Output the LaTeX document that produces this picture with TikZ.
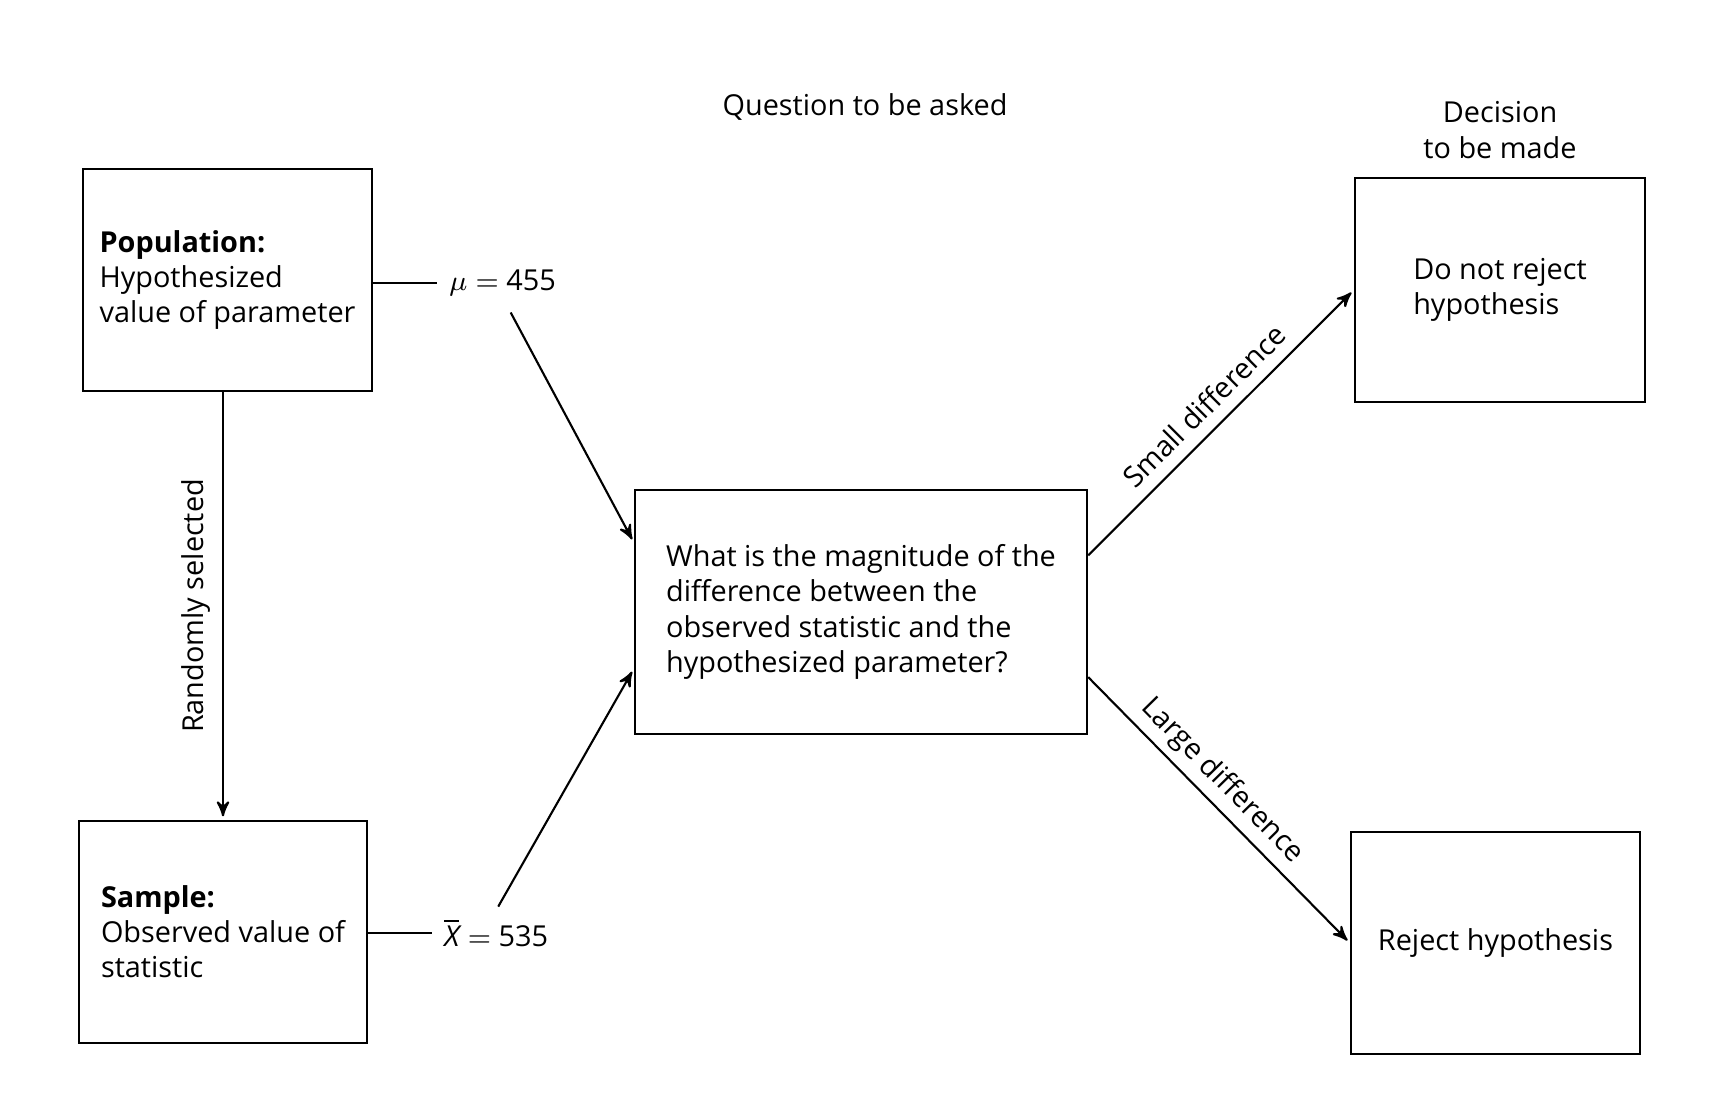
\documentclass[tikz,border=0pt]{standalone}
\usepackage{fontspec}
\setmainfont{Open Sans}
\usetikzlibrary{arrows,shapes}

\begin{document}
\begin{tikzpicture}[
  x=0.01cm, y=-0.01cm,
  font=\fontsize{8.2}{10}\selectfont,
  box/.style={draw,semithick,align=left,inner sep=0pt},
  to/.style={->,>=stealth',shorten >=1pt,semithick},
  tie/.style={semithick},
  every node/.style={align=center}]

  \useasboundingbox (0,0) rectangle (1712,1104);

  % Headings above the columns
  \node (question_label) at (865,107) {Question to be asked};
  \node (decision_label) at (1500,130) {Decision\\to be made};

  % The boxes, placed at coordinates
  \node[box,minimum width=2.89cm,minimum height=2.22cm] (population) at (227.5,280)
    {\textbf{Population:}\\Hypothesized\\value of parameter};
  \node[box,minimum width=2.88cm,minimum height=2.22cm] (sample) at (223,932)
    {\textbf{Sample:}\\Observed value of\\statistic};
  \node[box,minimum width=4.52cm,minimum height=2.44cm] (question) at (861,612)
    {What is the magnitude of the\\difference between the\\observed statistic and the\\hypothesized parameter?};
  \node[box,minimum width=2.90cm,minimum height=2.23cm] (no_reject) at (1500,290)
    {Do not reject\\hypothesis};
  \node[box,minimum width=2.89cm,minimum height=2.22cm] (reject) at (1495.5,943)
    {Reject hypothesis};

  % Values of parameter and statistic
  \node[anchor=west] (mu_value) at (437,283) {$\mu =$ 455};
  \node[anchor=west] (xbar_value) at (432,933) {$\overline{\textit{X}} =$ 535};

  % Draw the connectors
  \draw[tie] (mu_value.west -| population.east) -- (mu_value.west);
  \draw[tie] (xbar_value.west -| sample.east) -- (xbar_value.west);
  \draw[to] (sample.north |- population.south) -- node[rotate=90,anchor=south] {Randomly selected} (sample.north);
  \draw[to] ([xshift=0.08cm,yshift=-0.04cm]mu_value.south) -- (question.163.7);
  \draw[to] ([xshift=0.02cm]xbar_value.north) -- (question.194.4);
  \draw[to] (question.14.2) -- node[sloped,above] {Small difference} (no_reject.west);
  \draw[to] (question.344.6) -- node[sloped,above,pos=0.45,inner sep=2pt] {Large difference} (reject.west);
\end{tikzpicture}
\end{document}
